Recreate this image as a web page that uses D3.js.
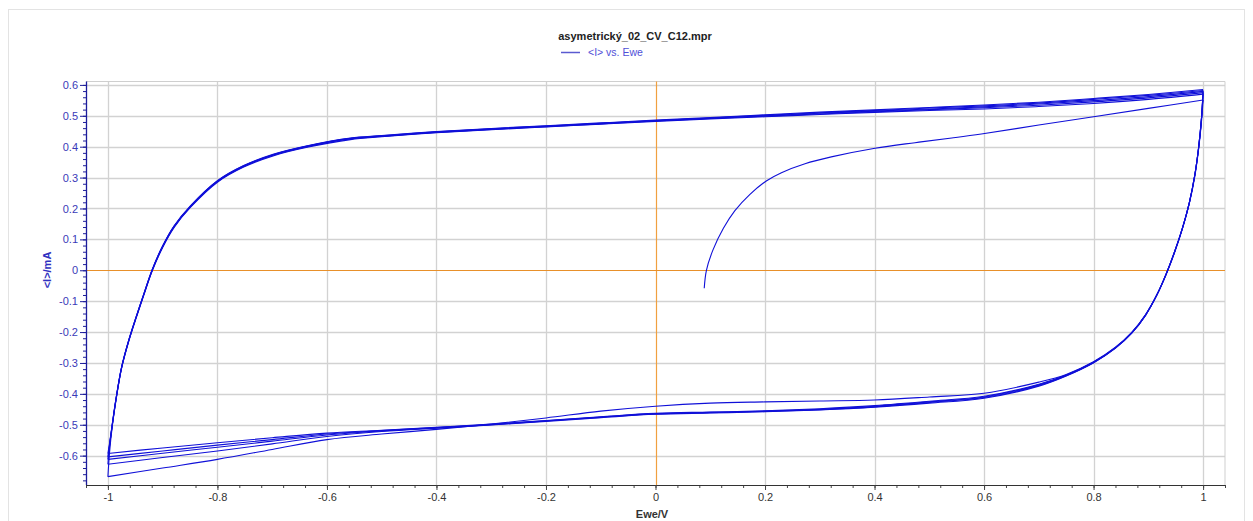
<!DOCTYPE html>
<html>
<head>
<meta charset="utf-8">
<script src="https://cdn.jsdelivr.net/npm/d3@7"></script>
<style>
  html, body { margin: 0; padding: 0; background: #ffffff; }
  svg { display: block; }
</style>
</head>
<body>
<svg id="chart" width="1253" height="521"></svg>
<script>
// ---------------- DATA ----------------
const chartTitle = "asymetrický_02_CV_C12.mpr";
const legendLabel = "<I> vs. Ewe";
const xTitle = "Ewe/V";
const yTitle = "<I>/mA";

const xTickValues = [-1, -0.8, -0.6, -0.4, -0.2, 0, 0.2, 0.4, 0.6, 0.8, 1];
const xTickLabels = ["-1", "-0.8", "-0.6", "-0.4", "-0.2", "0", "0.2", "0.4", "0.6", "0.8", "1"];
const yTickValues = [-0.6, -0.5, -0.4, -0.3, -0.2, -0.1, 0, 0.1, 0.2, 0.3, 0.4, 0.5, 0.6];
const yTickLabels = ["-0.6", "-0.5", "-0.4", "-0.3", "-0.2", "-0.1", "0", "0.1", "0.2", "0.3", "0.4", "0.5", "0.6"];

// first (partial) forward scan from the rest potential
const firstScanE = [0.089, 0.093, 0.105, 0.124, 0.145, 0.172, 0.203, 0.230, 0.273, 0.321, 0.401, 0.474, 0.541, 0.595, 0.7, 0.8, 0.9, 1.0];
const firstScanI = [-0.058, 0.0, 0.066, 0.136, 0.193, 0.245, 0.290, 0.316, 0.345, 0.367, 0.395, 0.413, 0.428, 0.441, 0.470, 0.497, 0.524, 0.551];

// reverse (cathodic) scans, E from 1 to -1
const eRev = [1.0, 0.997, 0.992, 0.985, 0.975, 0.962, 0.948, 0.933, 0.915, 0.895, 0.87, 0.84, 0.80, 0.75, 0.70, 0.6, 0.5, 0.4, 0.3, 0.2, 0.1, 0.0, -0.1, -0.2, -0.3, -0.4, -0.5, -0.6, -0.7, -0.8, -0.9, -1.0];
const iRev1 = [0.551, 0.48, 0.395, 0.305, 0.217, 0.133, 0.058, -0.012, -0.082, -0.143, -0.200, -0.249, -0.296, -0.337, -0.362, -0.398, -0.410, -0.420, -0.423, -0.426, -0.430, -0.440, -0.456, -0.478, -0.498, -0.515, -0.530, -0.548, -0.580, -0.612, -0.640, -0.668];
const iRev2 = [0.570, 0.49, 0.400, 0.310, 0.220, 0.135, 0.060, -0.010, -0.082, -0.145, -0.203, -0.252, -0.299, -0.342, -0.375, -0.414, -0.430, -0.443, -0.452, -0.458, -0.462, -0.466, -0.477, -0.489, -0.501, -0.511, -0.522, -0.538, -0.562, -0.585, -0.606, -0.628];
const iRev3 = [0.575, 0.49, 0.400, 0.310, 0.220, 0.135, 0.060, -0.010, -0.082, -0.145, -0.203, -0.252, -0.299, -0.341, -0.373, -0.412, -0.428, -0.442, -0.451, -0.457, -0.461, -0.465, -0.476, -0.488, -0.500, -0.510, -0.520, -0.533, -0.553, -0.573, -0.592, -0.612];
const iRev4 = [0.579, 0.49, 0.400, 0.310, 0.220, 0.135, 0.060, -0.010, -0.082, -0.145, -0.202, -0.251, -0.298, -0.340, -0.371, -0.410, -0.426, -0.440, -0.450, -0.456, -0.460, -0.464, -0.475, -0.487, -0.499, -0.509, -0.519, -0.530, -0.548, -0.566, -0.585, -0.604];
const iRev5 = [0.582, 0.49, 0.400, 0.310, 0.220, 0.135, 0.060, -0.010, -0.082, -0.145, -0.202, -0.250, -0.297, -0.339, -0.369, -0.408, -0.424, -0.438, -0.448, -0.455, -0.459, -0.463, -0.474, -0.486, -0.498, -0.508, -0.518, -0.527, -0.542, -0.558, -0.575, -0.593];

// forward (anodic) scans, E from -1 to 1
const eFwd = [-1.0, -0.997, -0.992, -0.985, -0.975, -0.962, -0.948, -0.934, -0.919, -0.90, -0.879, -0.849, -0.80, -0.752, -0.697, -0.636, -0.557, -0.5, -0.4, -0.3, -0.2, -0.1, 0.0, 0.1, 0.2, 0.3, 0.4, 0.5, 0.6, 0.7, 0.8, 0.9, 1.0];
const iFwd2 = [-0.668, -0.590, -0.505, -0.418, -0.317, -0.230, -0.152, -0.078, -0.002, 0.074, 0.139, 0.204, 0.285, 0.334, 0.371, 0.398, 0.423, 0.432, 0.445, 0.455, 0.464, 0.473, 0.482, 0.490, 0.497, 0.504, 0.511, 0.517, 0.522, 0.530, 0.540, 0.553, 0.570];
const iFwd3 = [-0.628, -0.570, -0.502, -0.416, -0.316, -0.229, -0.151, -0.077, 0.000, 0.076, 0.141, 0.206, 0.287, 0.336, 0.373, 0.400, 0.425, 0.433, 0.446, 0.456, 0.465, 0.474, 0.483, 0.491, 0.499, 0.506, 0.513, 0.520, 0.526, 0.534, 0.545, 0.558, 0.575];
const iFwd4 = [-0.612, -0.567, -0.500, -0.415, -0.315, -0.228, -0.150, -0.076, 0.001, 0.077, 0.142, 0.207, 0.288, 0.337, 0.374, 0.401, 0.426, 0.434, 0.447, 0.457, 0.466, 0.475, 0.484, 0.492, 0.500, 0.508, 0.515, 0.522, 0.529, 0.538, 0.549, 0.562, 0.579];
const iFwd5 = [-0.604, -0.565, -0.499, -0.414, -0.314, -0.227, -0.149, -0.075, 0.002, 0.078, 0.143, 0.208, 0.289, 0.338, 0.375, 0.402, 0.427, 0.435, 0.448, 0.458, 0.467, 0.476, 0.485, 0.493, 0.502, 0.510, 0.517, 0.525, 0.532, 0.541, 0.553, 0.566, 0.582];
const iFwd6 = [-0.593, -0.560, -0.497, -0.413, -0.313, -0.226, -0.148, -0.074, 0.003, 0.079, 0.144, 0.209, 0.290, 0.339, 0.376, 0.403, 0.428, 0.436, 0.449, 0.459, 0.468, 0.477, 0.486, 0.494, 0.503, 0.512, 0.519, 0.527, 0.535, 0.544, 0.556, 0.569, 0.585];

// ---------------- CHART ----------------
const W = 1253, H = 521;
const plot = { left: 86, right: 1225, top: 81.5, bottom: 485 };
const svg = d3.select("#chart");

const x = d3.scaleLinear().domain([-1.04, 1.04]).range([plot.left, plot.right]);
const y = d3.scaleLinear().domain([-0.695, 0.611]).range([plot.bottom, plot.top]);

// outer frame
svg.append("rect").attr("x", 8.5).attr("y", 9.5).attr("width", 1236).attr("height", 530)
  .attr("fill", "none").attr("stroke", "#e3e3e3").attr("stroke-width", 1);

// grid
const grid = svg.append("g");
grid.selectAll("line.gx").data(xTickValues.filter(v => v !== 0)).join("line")
  .attr("x1", d => Math.round(x(d)) + 0.5).attr("x2", d => Math.round(x(d)) + 0.5)
  .attr("y1", plot.top).attr("y2", plot.bottom)
  .attr("stroke", "#d2d2d2").attr("stroke-width", 1.3);
grid.selectAll("line.gy").data(yTickValues.filter(v => v !== 0)).join("line")
  .attr("y1", d => Math.round(y(d)) + 0.5).attr("y2", d => Math.round(y(d)) + 0.5)
  .attr("x1", plot.left).attr("x2", plot.right)
  .attr("stroke", "#d2d2d2").attr("stroke-width", 1.3);
// plot frame (top & right)
grid.append("line").attr("x1", plot.left).attr("x2", plot.right).attr("y1", plot.top).attr("y2", plot.top)
  .attr("stroke", "#cfcfcf");
grid.append("line").attr("x1", plot.right).attr("x2", plot.right).attr("y1", plot.top).attr("y2", plot.bottom)
  .attr("stroke", "#cfcfcf");
// zero lines
grid.append("line").attr("x1", Math.round(x(0)) + 0.5).attr("x2", Math.round(x(0)) + 0.5)
  .attr("y1", plot.top).attr("y2", plot.bottom).attr("stroke", "#f0a040").attr("stroke-width", 1.2);
grid.append("line").attr("y1", Math.round(y(0)) + 0.5).attr("y2", Math.round(y(0)) + 0.5)
  .attr("x1", plot.left).attr("x2", plot.right).attr("stroke", "#e8902a").attr("stroke-width", 1.2);

// curves
const segments = [
  [firstScanE, firstScanI],
  [eRev, iRev1], [eFwd, iFwd2],
  [eRev, iRev2], [eFwd, iFwd3],
  [eRev, iRev3], [eFwd, iFwd4],
  [eRev, iRev4], [eFwd, iFwd5],
  [eRev, iRev5], [eFwd, iFwd6]
];
const line = d3.line().x(d => x(d[0])).y(d => y(d[1])).curve(d3.curveCatmullRom.alpha(0.5));
svg.append("g").selectAll("path").data(segments).join("path")
  .attr("d", s => line(s[0].map((e, i) => [e, s[1][i]])))
  .attr("fill", "none").attr("stroke", "#1010d8").attr("stroke-width", 1.1)
  .attr("stroke-linejoin", "round");

// x axis
const xMinor = d3.range(-26, 27).map(k => k * 0.04);
const xAxisG = svg.append("g").attr("transform", `translate(0,${plot.bottom})`);
xAxisG.call(d3.axisBottom(x).tickValues(xMinor).tickSize(3).tickFormat(""));
xAxisG.call(g => g.select(".domain").remove());
const xMajor = svg.append("g").attr("transform", `translate(0,${plot.bottom})`)
  .call(d3.axisBottom(x).tickValues(xTickValues).tickSize(5).tickSizeOuter(0)
    .tickFormat((d, i) => xTickLabels[i]));
xMajor.select(".domain").attr("d", `M${plot.left},0.5H${plot.right}`).attr("stroke", "#333");
[xAxisG, xMajor].forEach(g => g.selectAll(".tick line").attr("stroke", "#444"));
xMajor.selectAll(".tick text").attr("font-family", "Liberation Sans, Arial, sans-serif")
  .attr("font-size", 11).attr("fill", "#333").attr("dy", "0.9em").attr("y", 6);

// y axis
const yMinor = d3.range(-34, 31).map(k => k * 0.02);
const yAxisG = svg.append("g").attr("transform", `translate(${plot.left},0)`);
yAxisG.call(d3.axisLeft(y).tickValues(yMinor).tickSize(3).tickFormat(""));
yAxisG.call(g => g.select(".domain").remove());
const yMajor = svg.append("g").attr("transform", `translate(${plot.left},0)`)
  .call(d3.axisLeft(y).tickValues(yTickValues).tickSize(6).tickSizeOuter(0)
    .tickFormat((d, i) => yTickLabels[i]));
yMajor.select(".domain").attr("d", `M0.5,${plot.top}V${plot.bottom}`).attr("stroke", "#1c1c9a").attr("stroke-width", 1.3);
[yAxisG, yMajor].forEach(g => g.selectAll(".tick line").attr("stroke", "#1c1c9a"));
yMajor.selectAll(".tick text").attr("font-family", "Liberation Sans, Arial, sans-serif")
  .attr("font-size", 11).attr("fill", "#3a3ab8").attr("x", -8);

// titles
svg.append("text").attr("x", 635).attr("y", 40).attr("text-anchor", "middle")
  .attr("font-family", "Liberation Sans, Arial, sans-serif").attr("font-size", 11)
  .attr("font-weight", "bold").attr("fill", "#222").text(chartTitle);
svg.append("line").attr("x1", 561).attr("x2", 580).attr("y1", 52.5).attr("y2", 52.5)
  .attr("stroke", "#5a5ad0").attr("stroke-width", 1.5);
svg.append("text").attr("x", 588).attr("y", 56).attr("font-family", "Liberation Sans, Arial, sans-serif")
  .attr("font-size", 10.5).attr("fill", "#5050d8").text(legendLabel);

svg.append("text").attr("x", 652).attr("y", 518).attr("text-anchor", "middle")
  .attr("font-family", "Liberation Sans, Arial, sans-serif").attr("font-size", 11)
  .attr("font-weight", "bold").attr("fill", "#333").text(xTitle);
svg.append("text").attr("transform", "translate(51,270) rotate(-90)").attr("text-anchor", "middle")
  .attr("font-family", "Liberation Sans, Arial, sans-serif").attr("font-size", 11)
  .attr("font-weight", "bold").attr("fill", "#3030c0").text(yTitle);
</script>
</body>
</html>
